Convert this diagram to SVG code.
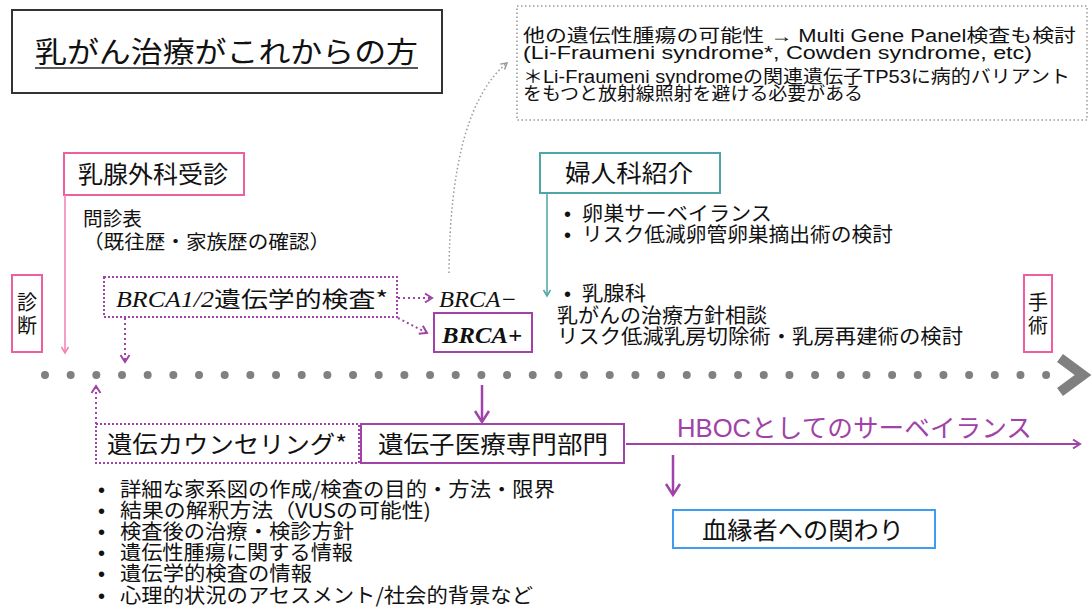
<svg xmlns="http://www.w3.org/2000/svg" width="1092" height="608" viewBox="0 0 1092 608">
<defs>
<style>
.jp{font-family:"Noto Sans CJK JP","Liberation Sans",sans-serif;fill:#111}
.lj{font-family:"Liberation Sans","Noto Sans CJK JP",sans-serif;fill:#111}
.it{font-family:"Liberation Serif",serif;font-style:italic;fill:#111}
.box{fill:#fff;stroke-width:2}
.pink{stroke:#ee5fa0}
.teal{stroke:#4ea6a6}
.purple{stroke:#a142a8}
.blue{stroke:#3f9cf0}
.dotp{fill:none;stroke:#a142a8;stroke-width:2;stroke-dasharray:2 2}
</style>
<marker id="hPink" markerUnits="userSpaceOnUse" markerWidth="10" markerHeight="10" refX="8" refY="5" orient="auto"><path d="M2,1.5 L8,5 L2,8.5" fill="none" stroke="#f27fb5" stroke-width="1.5"/></marker>
<marker id="hTeal" markerUnits="userSpaceOnUse" markerWidth="10" markerHeight="10" refX="8" refY="5" orient="auto"><path d="M2,1.5 L8,5 L2,8.5" fill="none" stroke="#4ea6a6" stroke-width="1.5"/></marker>
<marker id="hPur" markerUnits="userSpaceOnUse" markerWidth="12" markerHeight="12" refX="10" refY="6" orient="auto"><path d="M3,1.5 L10,6 L3,10.5" fill="none" stroke="#a142a8" stroke-width="2"/></marker>
<marker id="hPurBig" markerUnits="userSpaceOnUse" markerWidth="16" markerHeight="18" refX="13" refY="9" orient="auto"><path d="M2,2 L13,9 L2,16" fill="none" stroke="#a142a8" stroke-width="2.5"/></marker>
<marker id="hGray" markerUnits="userSpaceOnUse" markerWidth="10" markerHeight="10" refX="8" refY="5" orient="auto"><path d="M2,1.5 L8,5 L2,8.5" fill="none" stroke="#999" stroke-width="1.5"/></marker>
</defs>
<rect width="1092" height="608" fill="#fff"/>

<g id="title">
<rect x="12" y="10" width="430" height="83" fill="#fff" stroke="#333" stroke-width="2"/>
<text class="jp" x="35" y="63" font-size="29" textLength="383" lengthAdjust="spacingAndGlyphs">乳がん治療がこれからの方</text>
<line x1="35" y1="68" x2="418" y2="68" stroke="#222" stroke-width="1.5"/>
</g>

<g id="info">
<rect x="517" y="6" width="570" height="114" fill="none" stroke="#999" stroke-width="1.5" stroke-dasharray="1.5 2.5"/>
<text class="lj" x="523" y="42" font-size="18" textLength="553" lengthAdjust="spacingAndGlyphs">他の遺伝性腫瘍の可能性 → Multi Gene Panel検査も検討</text>
<text class="lj" x="523" y="59" font-size="18" textLength="509" lengthAdjust="spacingAndGlyphs">(Li-Fraumeni syndrome*, Cowden syndrome, etc)</text>
<text class="lj" x="523" y="83" font-size="18" textLength="547" lengthAdjust="spacingAndGlyphs">＊Li-Fraumeni syndromeの関連遺伝子TP53に病的バリアント</text>
<text class="lj" x="523" y="100" font-size="18" textLength="340" lengthAdjust="spacingAndGlyphs">をもつと放射線照射を避ける必要がある</text>
</g>

<g id="breast-surgery">
<rect class="box pink" x="64" y="153" width="180" height="42"/>
<text class="jp" x="78" y="183" font-size="24" textLength="150" lengthAdjust="spacingAndGlyphs">乳腺外科受診</text>
</g>

<g id="questionnaire">
<text class="jp" x="83" y="226" font-size="19.5" textLength="59" lengthAdjust="spacingAndGlyphs">問診表</text>
<text class="jp" x="83" y="249" font-size="19.5" textLength="247" lengthAdjust="spacingAndGlyphs">（既往歴・家族歴の確認）</text>
</g>

<g id="diagnosis">
<rect class="box pink" x="12" y="275" width="30" height="77"/>
<text class="jp" x="27" y="310" font-size="20" text-anchor="middle">診</text>
<text class="jp" x="27" y="333" font-size="20" text-anchor="middle">断</text>
</g>

<g id="surgery">
<rect class="box pink" x="1024" y="275" width="28" height="77"/>
<text class="jp" x="1038" y="310" font-size="20" text-anchor="middle">手</text>
<text class="jp" x="1038" y="333" font-size="20" text-anchor="middle">術</text>
</g>

<g id="brca-test">
<rect class="dotp" x="104" y="277" width="293" height="40"/>
<text class="it" x="116" y="307" font-size="23" textLength="98" lengthAdjust="spacingAndGlyphs">BRCA1/2</text>
<text class="jp" x="214" y="307" font-size="22" textLength="174" lengthAdjust="spacingAndGlyphs">遺伝学的検査*</text>
</g>

<g id="brca-neg">
<text class="it" x="439" y="307" font-size="23" textLength="78" lengthAdjust="spacingAndGlyphs">BRCA−</text>
</g>

<g id="brca-pos">
<rect class="box purple" x="434" y="313" width="98" height="39"/>
<text class="it" x="442" y="343" font-size="23" font-weight="bold" textLength="80" lengthAdjust="spacingAndGlyphs">BRCA+</text>
</g>

<g id="gynecology">
<rect class="box teal" x="540" y="153" width="180" height="40"/>
<text class="jp" x="565" y="182" font-size="24" textLength="128" lengthAdjust="spacingAndGlyphs">婦人科紹介</text>
</g>

<g id="gyn-notes">
<text class="lj" x="564" y="221" font-size="20">•</text>
<text class="jp" x="582" y="221" font-size="20" textLength="190" lengthAdjust="spacingAndGlyphs">卵巣サーベイランス</text>
<text class="lj" x="564" y="242" font-size="20">•</text>
<text class="jp" x="582" y="242" font-size="20" textLength="311" lengthAdjust="spacingAndGlyphs">リスク低減卵管卵巣摘出術の検討</text>
<text class="lj" x="564" y="301" font-size="20">•</text>
<text class="jp" x="582" y="301" font-size="20" textLength="64" lengthAdjust="spacingAndGlyphs">乳腺科</text>
<text class="jp" x="557" y="323" font-size="20" textLength="210" lengthAdjust="spacingAndGlyphs">乳がんの治療方針相談</text>
<text class="jp" x="557" y="344" font-size="20" textLength="406" lengthAdjust="spacingAndGlyphs">リスク低減乳房切除術・乳房再建術の検討</text>
</g>

<g id="timeline">
<line x1="45" y1="375" x2="1046.5" y2="375" stroke="#808080" stroke-width="8" stroke-linecap="round" stroke-dasharray="0 25.67"/>
<polyline points="1060,358 1083,375 1060,392" fill="none" stroke="#808080" stroke-width="10"/>
</g>

<g id="counseling">
<rect class="dotp" x="96" y="424" width="263" height="39"/>
<text class="jp" x="107" y="453" font-size="24" textLength="240" lengthAdjust="spacingAndGlyphs">遺伝カウンセリング*</text>
</g>

<g id="genetics-dept">
<rect class="box purple" x="361" y="424" width="263" height="39"/>
<text class="jp" x="378" y="453" font-size="24" textLength="230" lengthAdjust="spacingAndGlyphs">遺伝子医療専門部門</text>
</g>

<g id="hboc">
<text class="lj" x="677" y="437" font-size="25" style="fill:#a142a8" textLength="355" lengthAdjust="spacingAndGlyphs">HBOCとしてのサーベイランス</text>
</g>

<g id="relatives">
<rect class="box blue" x="673" y="510" width="262" height="38"/>
<text class="jp" x="702" y="539" font-size="24" textLength="202" lengthAdjust="spacingAndGlyphs">血縁者への関わり</text>
</g>

<g id="counseling-notes">
<text class="lj" x="98" y="497" font-size="20">•</text>
<text class="jp" x="120" y="497" font-size="20" textLength="435" lengthAdjust="spacingAndGlyphs">詳細な家系図の作成/検査の目的・方法・限界</text>
<text class="lj" x="98" y="518" font-size="20">•</text>
<text class="jp" x="120" y="518" font-size="20" textLength="311" lengthAdjust="spacingAndGlyphs">結果の解釈方法（VUSの可能性)</text>
<text class="lj" x="98" y="539" font-size="20">•</text>
<text class="jp" x="120" y="539" font-size="20" textLength="234" lengthAdjust="spacingAndGlyphs">検査後の治療・検診方針</text>
<text class="lj" x="98" y="560" font-size="20">•</text>
<text class="jp" x="120" y="560" font-size="20" textLength="233" lengthAdjust="spacingAndGlyphs">遺伝性腫瘍に関する情報</text>
<text class="lj" x="98" y="581" font-size="20">•</text>
<text class="jp" x="120" y="581" font-size="20" textLength="192" lengthAdjust="spacingAndGlyphs">遺伝学的検査の情報</text>
<text class="lj" x="98" y="603" font-size="20">•</text>
<text class="jp" x="120" y="603" font-size="20" textLength="413" lengthAdjust="spacingAndGlyphs">心理的状況のアセスメント/社会的背景など</text>
</g>

<g id="connectors" fill="none">
<line x1="65" y1="195" x2="65" y2="353" stroke="#f27fb5" stroke-width="1.5" marker-end="url(#hPink)"/>
<line x1="547" y1="193" x2="547" y2="296" stroke="#4ea6a6" stroke-width="1.5" marker-end="url(#hTeal)"/>
<path d="M449,273 Q450,110 507,63" stroke="#999" stroke-width="1.5" stroke-dasharray="1.5 2.5" marker-end="url(#hGray)"/>
<line x1="398" y1="298" x2="432" y2="298" stroke="#a142a8" stroke-width="2" stroke-dasharray="2 3" marker-end="url(#hPur)"/>
<line x1="398" y1="318" x2="427" y2="333" stroke="#a142a8" stroke-width="2" stroke-dasharray="2 3" marker-end="url(#hPur)"/>
<line x1="125" y1="318" x2="125" y2="362" stroke="#a142a8" stroke-width="2" stroke-dasharray="2 3" marker-end="url(#hPur)"/>
<line x1="96" y1="424" x2="96" y2="386" stroke="#a142a8" stroke-width="2" stroke-dasharray="2 3" marker-end="url(#hPur)"/>
<line x1="482" y1="385" x2="482" y2="422" stroke="#a142a8" stroke-width="2.5" marker-end="url(#hPurBig)"/>
<line x1="626" y1="444" x2="1080" y2="444" stroke="#a142a8" stroke-width="2" marker-end="url(#hPur)"/>
<line x1="673" y1="455" x2="673" y2="495" stroke="#a142a8" stroke-width="2.5" marker-end="url(#hPurBig)"/>
</g>
</svg>
